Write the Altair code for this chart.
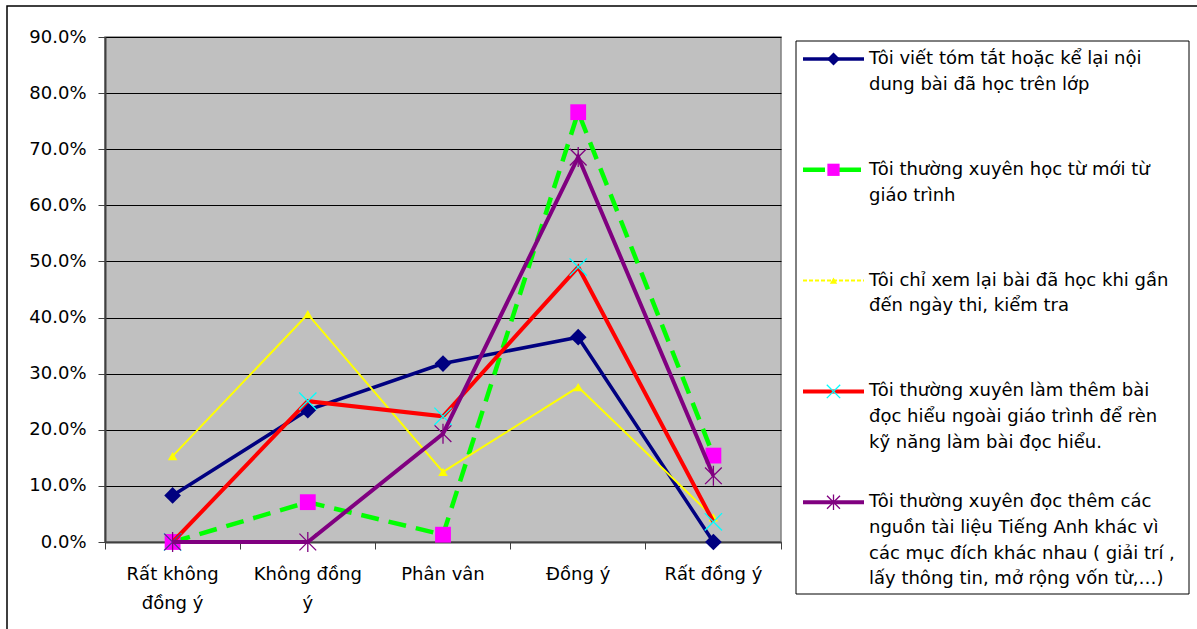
import altair as alt
import pandas as pd

# Response scale (x axis); "|" marks a line break in the tick label
categories = ["Rất không|đồng ý", "Không đồng|ý", "Phân vân", "Đồng ý", "Rất đồng ý"]

# Statements (legend text, "\n" = line break)
series_names = [
    "Tôi viết tóm tắt hoặc kể lại nội\ndung bài đã học trên lớp",
    "Tôi thường xuyên học từ mới từ\ngiáo trình",
    "Tôi chỉ xem lại bài đã học khi gần\nđến ngày thi, kiểm tra",
    "Tôi thường xuyên làm thêm bài\nđọc hiểu ngoài giáo trình để rèn\nkỹ năng làm bài đọc hiểu.",
    "Tôi thường xuyên đọc thêm các\nnguồn tài liệu Tiếng Anh khác vì\ncác mục đích khác nhau ( giải trí ,\nlấy thông tin, mở rộng vốn từ,…)",
]

# Share of respondents per answer
s1_values = [0.083, 0.235, 0.318, 0.365, 0.0]
s2_values = [0.0, 0.071, 0.013, 0.766, 0.154]
s3_values = [0.153, 0.406, 0.125, 0.276, 0.044]
s4_values = [0.0, 0.251, 0.224, 0.490, 0.036]
s5_values = [0.0, 0.0, 0.193, 0.686, 0.118]
all_values = [s1_values, s2_values, s3_values, s4_values, s5_values]

W, H = 676, 505
FONT = "DejaVu Sans"
FSIZE = 18

X_PATH = "M -1 -1 L 1 1 M -1 1 L 1 -1"
STAR_PATH = "M -1 -1 L 1 1 M -1 1 L 1 -1 M 0 -1.2 L 0 1.2"

styles = [
    dict(line="#000080", width=3.5, dash=None, shape="diamond", mfill="#000080", mstroke=None, msize=280),
    dict(line="#00FF00", width=4.5, dash=[18, 10], shape="square", mfill="#FF00FF", mstroke=None, msize=250),
    dict(line="#FFFF00", width=2, dash=None, shape="triangle-up", mfill="#FFFF00", mstroke=None, msize=90),
    dict(line="#FF0000", width=4, dash=None, shape=X_PATH, mfill=None, mstroke="#00FFFF", msize=300),
    dict(line="#800080", width=4, dash=None, shape=STAR_PATH, mfill=None, mstroke="#800080", msize=280),
]

rows = []
for i, vals in enumerate(all_values):
    for c, v in zip(categories, vals):
        rows.append({"series": i, "cat": c, "value": v})
df = pd.DataFrame(rows)

x_enc = alt.X(
    "cat:N",
    sort=categories,
    bandPosition=0.5,
    scale=alt.Scale(type="band", paddingInner=0, paddingOuter=0),
    axis=alt.Axis(
        title=None,
        bandPosition=1,
        tickExtra=True,
        labelAngle=0,
        labelExpr="split(datum.label, '|')",
        labelFont=FONT,
        labelFontSize=FSIZE,
        labelColor="black",
        labelLineHeight=29,
        labelBaseline="top",
        labelPadding=16,
        tickSize=7,
        tickColor="#404040",
        domainColor="#404040",
        domainWidth=2,
        grid=False,
    ),
)
y_enc = alt.Y(
    "value:Q",
    scale=alt.Scale(domain=[0, 0.9], nice=False, zero=True),
    axis=alt.Axis(
        title=None,
        format=".1%",
        values=[i / 10 for i in range(10)],
        labelFont=FONT,
        labelFontSize=FSIZE,
        labelColor="black",
        labelPadding=12,
        tickSize=7,
        tickColor="#404040",
        domainColor="#404040",
        domainWidth=2,
        gridColor="black",
        gridWidth=1,
    ),
)

base = alt.Chart(df)
layers = []

# Outer frame of the figure
frame = alt.Chart(pd.DataFrame({"k": [0]})).mark_rect(
    fill="white", fillOpacity=0, stroke="black", strokeWidth=1.5
).encode(x=alt.value(-98), x2=alt.value(1300), y=alt.value(-31), y2=alt.value(700))
layers.append(frame)

for i, st in enumerate(styles):
    sub = base.transform_filter(alt.datum.series == i)
    line_kw = dict(color=st["line"], strokeWidth=st["width"])
    if st["dash"]:
        line_kw["strokeDash"] = st["dash"]
    layers.append(sub.mark_line(**line_kw).encode(x=x_enc, y=y_enc))
    pt_kw = dict(shape=st["shape"], size=st["msize"], opacity=1)
    if st["mfill"]:
        pt_kw.update(filled=True, fill=st["mfill"], strokeWidth=0)
    else:
        pt_kw.update(filled=False, stroke=st["mstroke"], strokeWidth=1.3)
    layers.append(sub.mark_point(**pt_kw).encode(x=x_enc, y=y_enc))

# Legend box, placed to the right of the plot area (pixel offsets from the plot origin)
LX0, LX1, LY0, LY1 = 691, 1084, 4, 557
legend_box = alt.Chart(pd.DataFrame({"k": [0]})).mark_rect(
    fill="white", stroke="black", strokeWidth=1
).encode(x=alt.value(LX0), x2=alt.value(LX1), y=alt.value(LY0), y2=alt.value(LY1))
layers.append(legend_box)

ENTRY_Y0, ENTRY_STEP, LINE_STEP = 22, 110.8, 25.7
SYM_X0, SYM_X1, TEXT_X = 698, 759, 764
text_rows = []
for i, name in enumerate(series_names):
    for j, part in enumerate(name.split("\n")):
        text_rows.append({"px": TEXT_X, "py": ENTRY_Y0 + i * ENTRY_STEP + j * LINE_STEP, "t": part})
legend_text = alt.Chart(pd.DataFrame(text_rows)).mark_text(
    align="left", baseline="middle", font=FONT, fontSize=FSIZE, color="black"
).encode(x=alt.X("px:Q", scale=None), y=alt.Y("py:Q", scale=None), text="t:N")
layers.append(legend_text)

for i, st in enumerate(styles):
    ly = ENTRY_Y0 + i * ENTRY_STEP
    seg = pd.DataFrame({"px": [SYM_X0, SYM_X1], "py": [ly, ly]})
    line_kw = dict(color=st["line"], strokeWidth=st["width"])
    if i == 1:
        line_kw["strokeDash"] = [22, 14]
    if i == 2:
        line_kw["strokeDash"] = [4, 2]
    layers.append(alt.Chart(seg).mark_line(**line_kw).encode(
        x=alt.X("px:Q", scale=None), y=alt.Y("py:Q", scale=None)))
    mk = pd.DataFrame({"px": [(SYM_X0 + SYM_X1) / 2], "py": [ly]})
    pt_kw = dict(shape=st["shape"], size=st["msize"] * 0.6, opacity=1)
    if st["mfill"]:
        pt_kw.update(filled=True, fill=st["mfill"], strokeWidth=0)
    else:
        pt_kw.update(filled=False, stroke=st["mstroke"], strokeWidth=1.3)
    layers.append(alt.Chart(mk).mark_point(**pt_kw).encode(
        x=alt.X("px:Q", scale=None), y=alt.Y("py:Q", scale=None)))

chart = alt.layer(*layers).properties(
    width=W,
    height=H,
    autosize=alt.AutoSizeParams(type="none"),
    padding={"left": 105, "top": 37, "right": 1197 - 105 - W, "bottom": 629 - 37 - H},
    background="white",
).configure_view(fill="#C0C0C0", stroke="#808080", strokeWidth=1.5)

chart.save("out.html", embed_options={"renderer": "svg", "actions": False})
